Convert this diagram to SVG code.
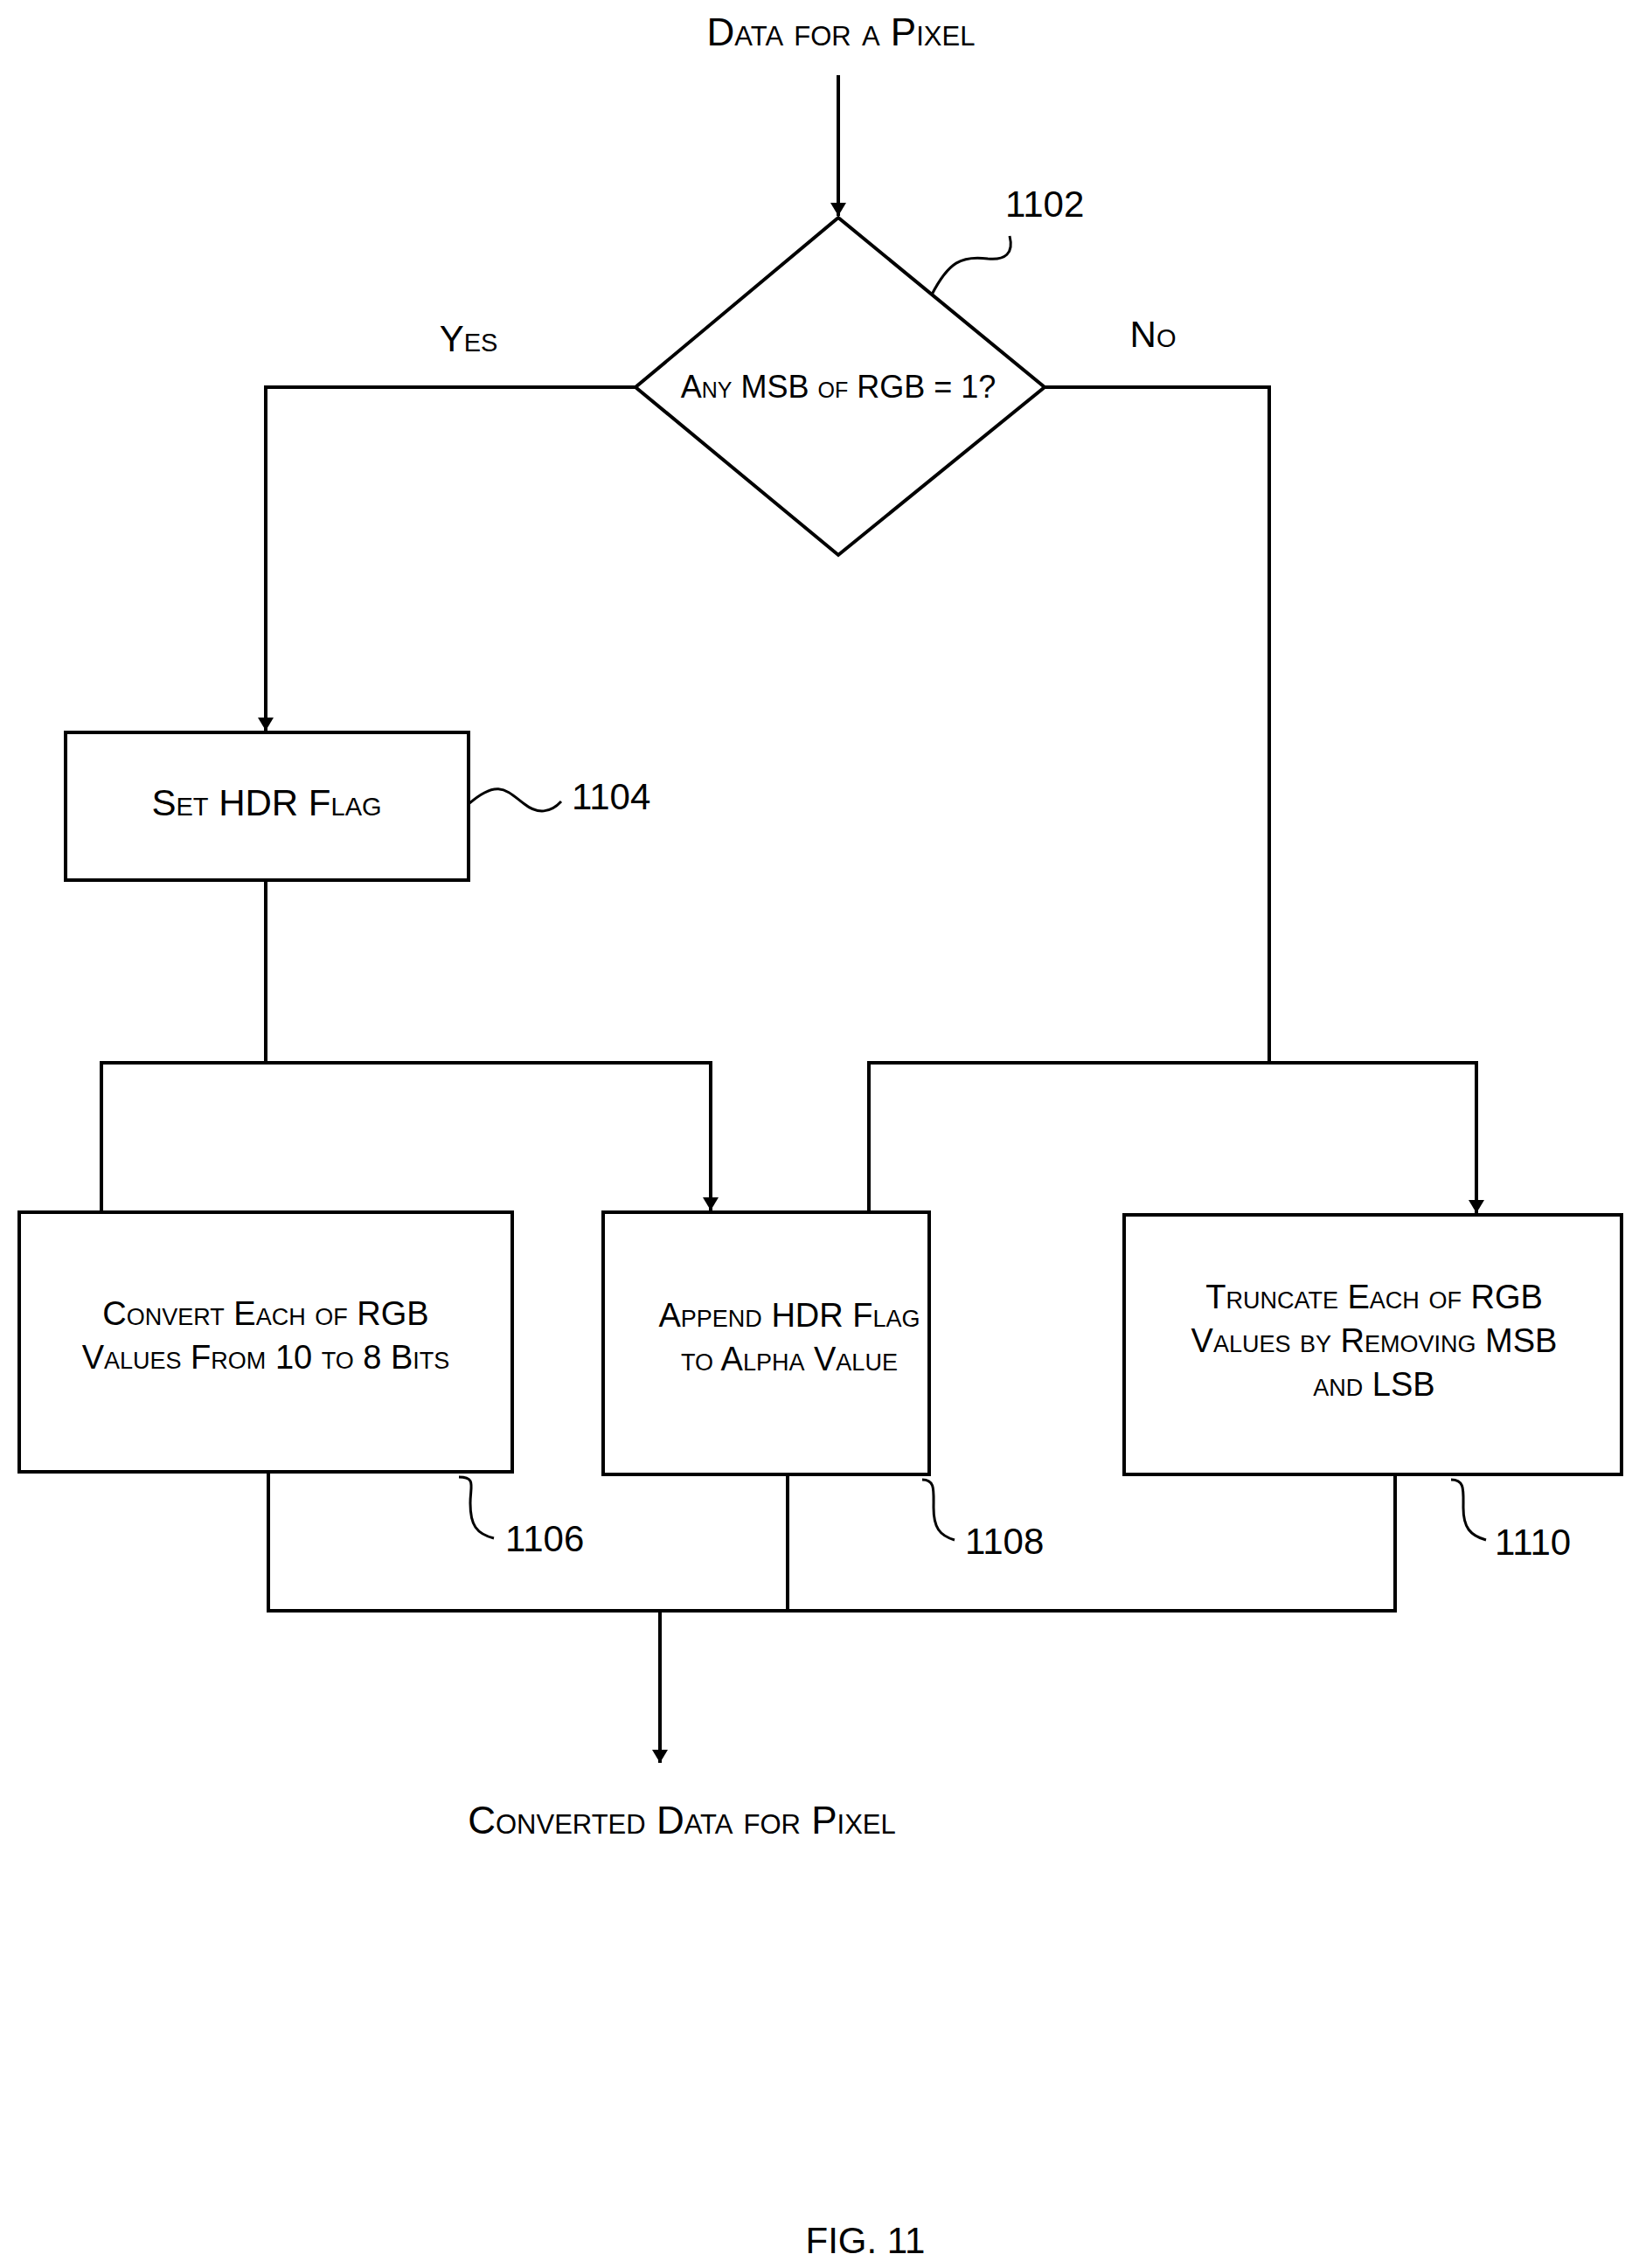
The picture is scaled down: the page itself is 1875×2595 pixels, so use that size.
<svg xmlns="http://www.w3.org/2000/svg" width="1875" height="2595" viewBox="0 0 1875 2595">
<style>
.t{font-family:"Liberation Sans",Arial,sans-serif;font-variant:small-caps;fill:#000;text-anchor:middle}
.n{font-family:"Liberation Sans",Arial,sans-serif;fill:#000;font-size:42px}
.s{fill:#fff;stroke:#000;stroke-width:4}
.c{fill:none;stroke:#000;stroke-width:4}
.l{fill:none;stroke:#000;stroke-width:3}
</style>
<defs><marker id="a" markerWidth="12" markerHeight="16" refX="6" refY="16" orient="auto-start-reverse" markerUnits="userSpaceOnUse" viewBox="0 0 12 16"><path d="M0,0 L12,0 L6,16 Z" transform="rotate(-90 6 8) rotate(90 6 8)" fill="#000"/></marker>
<marker id="b" markerWidth="18" markerHeight="30" refX="15" refY="9" orient="auto" markerUnits="userSpaceOnUse"><path d="M0,0 L15,9 L0,18 Z" fill="#000"/></marker></defs>
<g id="connectors">
<path class="c" d="M959,86 V247" marker-end="url(#b)"/>
<path class="c" d="M727,443 H304 V836" marker-end="url(#b)"/>
<path class="c" d="M1195,443 H1452 V1216"/>
<path class="c" d="M304,1007 V1216"/>
<path class="c" d="M116,1385 V1216 H813 V1385" marker-start="url(#b)" marker-end="url(#b)"/>
<path class="c" d="M994,1385 V1216 H1689 V1388" marker-start="url(#b)" marker-end="url(#b)"/>
<path class="c" d="M307,1684 V1843 H1596 V1687 M901,1687 V1843"/>
<path class="c" d="M755,1843 V2017" marker-end="url(#b)"/>
</g>
<text class="t" x="962" y="52" font-size="44">Data for a Pixel</text>
<text class="t" x="536" y="402" font-size="42">Yes</text>
<text class="t" x="1319" y="397" font-size="42">No</text>
<g id="n1102"><path class="s" d="M959,249 L1195,443 L959,635 L727,443 Z"/>
<text class="t" x="959" y="455" font-size="36">Any MSB of RGB = 1?</text>
<path class="l" d="M1066,337 C1085,300 1100,292 1130,296 C1150,298 1160,290 1155,270"/>
<text class="n" x="1150" y="248">1102</text></g>
<g id="n1104"><rect class="s" x="75" y="838" width="461" height="169"/>
<text class="t" x="305" y="933" font-size="42">Set HDR Flag</text>
<path class="l" d="M536,920 C570,890 580,905 600,920 C615,932 630,930 642,917"/>
<text class="n" x="654" y="926">1104</text></g>
<g id="n1106"><rect class="s" x="22" y="1387" width="564" height="297"/>
<text class="t" x="304" y="1516" font-size="38">Convert Each of RGB</text>
<text class="t" x="304" y="1566" font-size="38">Values From 10 to 8 Bits</text>
<path class="l" d="M525,1690 C545,1690 538,1700 538,1720 C538,1745 545,1755 565,1760"/>
<text class="n" x="578" y="1775">1106</text></g>
<g id="n1108"><rect class="s" x="690" y="1387" width="373" height="300"/>
<text class="t" x="903" y="1518" font-size="38">Append HDR Flag</text>
<text class="t" x="903" y="1568" font-size="38">to Alpha Value</text>
<path class="l" d="M1055,1693 C1070,1693 1068,1705 1068,1725 C1068,1748 1075,1757 1092,1762"/>
<text class="n" x="1104" y="1778">1108</text></g>
<g id="n1110"><rect class="s" x="1286" y="1390" width="569" height="297"/>
<text class="t" x="1572" y="1497" font-size="38">Truncate Each of RGB</text>
<text class="t" x="1572" y="1547" font-size="38">Values by Removing MSB</text>
<text class="t" x="1572" y="1597" font-size="38">and LSB</text>
<path class="l" d="M1660,1693 C1676,1693 1674,1705 1674,1725 C1674,1748 1682,1757 1700,1762"/>
<text class="n" x="1710" y="1779">1110</text></g>
<text class="t" x="780" y="2098" font-size="44">Converted Data for Pixel</text>
<text class="n" x="990" y="2578" text-anchor="middle" font-size="50">FIG. 11</text>
</svg>
